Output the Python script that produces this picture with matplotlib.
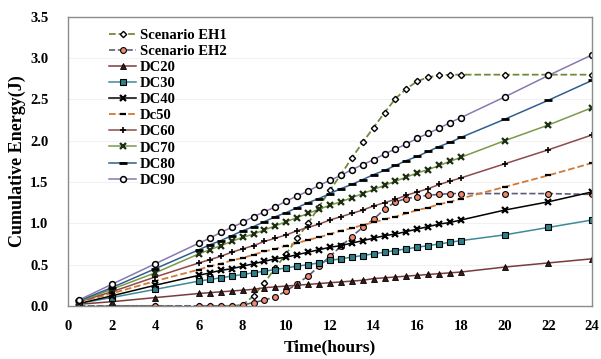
import numpy as np
import matplotlib.pyplot as plt

hours = [0.5, 2, 4, 6, 6.5, 7, 7.5, 8, 8.5, 9, 9.5, 10, 10.5, 11, 11.5, 12,
         12.5, 13, 13.5, 14, 14.5, 15, 15.5, 16, 16.5, 17, 17.5, 18, 20, 22, 24]

eh1 = [0.0, 0.0, 0.0, 0.0, 0.0, 0.0, 0.0, 0.01, 0.12, 0.28, 0.46, 0.63, 0.82, 1.00, 1.20, 1.40,
       1.59, 1.79, 1.98, 2.16, 2.34, 2.51, 2.63, 2.72, 2.77, 2.79, 2.80, 2.80, 2.80, 2.80, 2.80]
eh2 = [0.0, 0.0, 0.0, 0.0, 0.0, 0.0, 0.0, 0.01, 0.04, 0.07, 0.11, 0.18, 0.27, 0.36, 0.48, 0.60,
       0.72, 0.84, 0.95, 1.05, 1.17, 1.26, 1.30, 1.32, 1.34, 1.35, 1.36, 1.36, 1.36, 1.36, 1.35]
dc20 = [0.02, 0.05, 0.10, 0.15, 0.16, 0.17, 0.18, 0.19, 0.20, 0.22, 0.23, 0.24, 0.25, 0.26, 0.27, 0.28,
        0.29, 0.30, 0.31, 0.33, 0.34, 0.35, 0.36, 0.37, 0.38, 0.39, 0.40, 0.41, 0.47, 0.52, 0.57]
dc30 = [0.03, 0.10, 0.20, 0.30, 0.32, 0.34, 0.36, 0.38, 0.40, 0.42, 0.44, 0.46, 0.48, 0.50, 0.52, 0.55,
        0.57, 0.59, 0.61, 0.63, 0.65, 0.67, 0.69, 0.71, 0.73, 0.75, 0.77, 0.79, 0.86, 0.95, 1.04]
dc40 = [0.03, 0.12, 0.25, 0.37, 0.40, 0.43, 0.45, 0.48, 0.51, 0.54, 0.57, 0.59, 0.62, 0.65, 0.68, 0.71,
        0.73, 0.76, 0.79, 0.82, 0.85, 0.87, 0.90, 0.93, 0.96, 0.99, 1.01, 1.04, 1.16, 1.26, 1.38]
dc50 = [0.04, 0.15, 0.30, 0.44, 0.48, 0.51, 0.55, 0.58, 0.62, 0.66, 0.69, 0.73, 0.76, 0.80, 0.83, 0.87,
        0.91, 0.94, 0.98, 1.01, 1.05, 1.08, 1.12, 1.16, 1.19, 1.23, 1.26, 1.30, 1.44, 1.58, 1.73]
dc60 = [0.05, 0.17, 0.35, 0.52, 0.56, 0.60, 0.65, 0.69, 0.73, 0.78, 0.82, 0.86, 0.91, 0.95, 0.99, 1.04,
        1.08, 1.12, 1.16, 1.21, 1.25, 1.29, 1.34, 1.38, 1.42, 1.47, 1.51, 1.55, 1.72, 1.89, 2.07]
dc70 = [0.05, 0.20, 0.40, 0.63, 0.68, 0.73, 0.78, 0.83, 0.87, 0.92, 0.97, 1.02, 1.07, 1.12, 1.17, 1.22,
        1.26, 1.31, 1.36, 1.41, 1.46, 1.51, 1.56, 1.61, 1.65, 1.70, 1.75, 1.80, 2.00, 2.19, 2.40]
dc80 = [0.06, 0.22, 0.45, 0.68, 0.74, 0.79, 0.85, 0.91, 0.96, 1.02, 1.08, 1.13, 1.19, 1.25, 1.30, 1.36,
        1.42, 1.47, 1.53, 1.59, 1.64, 1.70, 1.76, 1.81, 1.87, 1.93, 1.98, 2.04, 2.26, 2.49, 2.73]
dc90 = [0.07, 0.26, 0.51, 0.76, 0.82, 0.89, 0.95, 1.01, 1.08, 1.14, 1.20, 1.27, 1.33, 1.39, 1.46, 1.52,
        1.58, 1.65, 1.71, 1.77, 1.84, 1.90, 1.96, 2.03, 2.09, 2.15, 2.22, 2.28, 2.53, 2.79, 3.04]

serif = ['Liberation Serif', 'DejaVu Serif']
plt.rcParams['font.family'] = serif
plt.rcParams['font.weight'] = 'bold'

fig = plt.figure(figsize=(6.01, 3.59), dpi=100)
ax = fig.add_axes([0.113, 0.148, 0.872, 0.805])

ms = 4.2
ax.plot(hours, eh1, '--', color='#6E8B3D', lw=1.3, marker='D', ms=3.2, mfc='white',
        mec='black', mew=1.0, label='Scenario EH1')
ax.plot(hours, eh2, '--', color='#5F5A7A', lw=1.2, marker='o', ms=ms, mfc='#F08A6C',
        mec='black', mew=0.8, label='Scenario EH2')
ax.plot(hours, dc20, '-', color='#7A3B3B', lw=1.1, marker='^', ms=ms, mfc='#3A1A1A',
        mec='black', mew=0.6, label='DC20')
ax.plot(hours, dc30, '-', color='#3E8A98', lw=1.1, marker='s', ms=ms, mfc='#2F7F8A',
        mec='black', mew=0.8, label='DC30')
ax.plot(hours, dc40, '-', color='black', lw=1.1, marker='x', ms=ms, mec='black', mew=1.6,
        label='DC40')
ax.plot(hours, dc50, '--', color='#D07A35', lw=1.3, marker='_', ms=ms, mec='black', mew=1.6,
        label='Dc50')
ax.plot(hours, dc60, '-', color='#8E4A4A', lw=1.1, marker='+', ms=ms + 0.6, mec='black', mew=1.2,
        label='DC60')
ax.plot(hours, dc70, '-', color='#7A9A4A', lw=1.1, marker='x', ms=ms, mec='#1E2E12', mew=1.6,
        label='DC70')
ax.plot(hours, dc80, '-', color='#2F5F8F', lw=1.1, marker='_', ms=ms + 1.5, mec='black', mew=2.0,
        label='DC80')
ax.plot(hours, dc90, '-', color='#8A78B0', lw=1.1, marker='o', ms=ms, mfc='white',
        mec='black', mew=1.1, label='DC90')

ax.set_xlim(0, 24)
ax.set_ylim(0, 3.5)
ax.set_xticks(np.arange(0, 25, 2))
ax.set_yticks(np.arange(0, 3.51, 0.5))
ax.set_yticklabels([f'{v:.1f}' for v in np.arange(0, 3.51, 0.5)])
ax.tick_params(length=0, labelsize=10.5)
ax.tick_params(axis='y', pad=14)
ax.tick_params(axis='x', pad=10)
for lab in ax.get_xticklabels() + ax.get_yticklabels():
    lab.set_fontweight('bold')
ax.yaxis.grid(True, color='#f2f2f2', lw=0.8)
ax.set_axisbelow(True)
for sp in ax.spines.values():
    sp.set_color('#8c8c8c')
    sp.set_linewidth(1.0)

ax.set_xlabel('Time(hours)', fontsize=12.5, fontweight='bold', labelpad=5)
ax.set_ylabel('Cumulative Energy(J)', fontsize=13, fontweight='bold', labelpad=3)

ax.legend(loc='upper left', bbox_to_anchor=(0.068, 0.98), frameon=False,
          prop={'family': serif, 'weight': 'bold', 'size': 10.5},
          labelspacing=0.2, handlelength=1.8, handletextpad=0.3, borderaxespad=0)

fig.savefig('out.png', dpi=100)
